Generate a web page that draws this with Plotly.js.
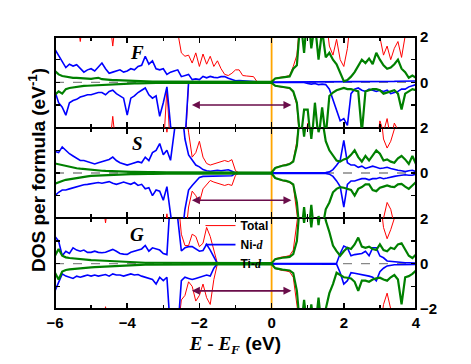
<!DOCTYPE html>
<html>
<head>
<meta charset="utf-8">
<script src="https://cdn.plot.ly/plotly-3.0.1.min.js"></script>
<style>
  html, body { margin: 0; padding: 0; background: #fff; }
  #dosGraph { width: 471px; height: 364px; }
</style>
</head>
<body>
<div id="dosGraph"></div>
<script>
// energy grid E - E_F (eV)
const energy = [
  -6.0, -5.9, -5.8, -5.7, -5.6, -5.5, -5.4, -5.3, -5.2, -5.1,
  -5.0, -4.9, -4.8, -4.7, -4.6, -4.5, -4.4, -4.3, -4.2, -4.1,
  -4.0, -3.9, -3.8, -3.7, -3.6, -3.5, -3.4, -3.3, -3.2, -3.1,
  -3.0, -2.9, -2.8, -2.7, -2.6, -2.5, -2.4, -2.3, -2.2, -2.1,
  -2.0, -1.9, -1.8, -1.7, -1.6, -1.5, -1.4, -1.3, -1.2, -1.1,
  -1.0, -0.9, -0.8, -0.7, -0.6, -0.5, -0.4, -0.3, -0.2, -0.1,
  0.0, 0.1, 0.2, 0.3, 0.4, 0.5, 0.6, 0.7, 0.8, 0.9,
  1.0, 1.1, 1.2, 1.3, 1.4, 1.5, 1.6, 1.7, 1.8, 1.9,
  2.0, 2.1, 2.2, 2.3, 2.4, 2.5, 2.6, 2.7, 2.8, 2.9,
  3.0, 3.1, 3.2, 3.3, 3.4, 3.5, 3.6, 3.7, 3.8, 3.9,
  4.0
];

// ---- F panel ----
const fTotalUp = [
  3, 3, 3, 3, 3, 3, 3, 1.8, 3, 3,
  3, 3, 3, 3, 3, 3, 1.6, 3, 3, 3,
  3, 3, 3, 3, 3, 3, 3, 3, 3, 3,
  3, 3, 3, 3.5, 2.2, 1.3, 1.15, 1.2, 0.85, 1.3,
  0.7, 1.25, 0.8, 1.15, 0.7, 0.95, 0.6, 0.35, 0.3, 0.4,
  0.55, 0.55, 0.3, 0.28, 0.28, 0.25, 0.02, 0, 0, 0,
  0.02, 0.18, 0.22, 0.24, 0.26, 0.3, 0.7, 1.2, 3, 3,
  3, 3, 3, 3, 3, 3, 1.6, 1.2, 1.9, 1.0,
  0.7, 1.5, 3, 3, 3, 3, 3, 3, 3, 3,
  2.0, 1.2, 1.6, 1.0, 1.5, 1.8, 1.1, 2.2, 3, 3,
  3
];
const fTotalDown = [
  -3, -3, -3, -3, -3, -3, -3, -3, -3, -3,
  -3, -3, -3, -3, -3, -3, -1.5, -3, -3, -3,
  -3, -3, -3, -3, -3, -3, -3, -3, -3, -3,
  -3, -0.3, -3, -3, -3, -3, -3, -0.05, -0.02, -0.02,
  -0.02, -0.02, -0.02, -0.02, -0.02, -0.02, -0.02, -0.02, -0.02, -0.02,
  -0.02, -0.02, -0.02, -0.02, -0.02, -0.02, -0.02, -0.01, -0.01, -0.01,
  -0.02, -0.16, -0.2, -0.22, -0.24, -0.28, -0.45, -1.0, -3, -3,
  -1.8, -3, -3, -3, -3, -3, -3, -3, -3, -3,
  -3, -3, -3, -3, -3, -3, -3, -3, -3, -3,
  -1.7, -2.2, -1.6, -2.5, -1.8, -2.1, -3, -3, -3, -3,
  -3
];
const fNiUp = [
  1.45, 1.2, 0.95, 0.65, 0.8, 0.72, 0.78, 0.6, 0.45, 0.55,
  0.6, 0.5, 0.7, 0.85, 0.6, 0.4, 0.45, 0.5, 0.55, 0.45,
  0.5, 0.6, 0.55, 0.7, 0.75, 1.15, 0.8, 0.95, 0.6, 0.55,
  0.6, 0.35, 0.45, 0.5, 0.55, 0.25, 0.3, 0.35, 0.12, 0.15,
  0.12, 0.26, 0.2, 0.26, 0.22, 0.2, 0.25, 0.26, 0.18, 0.12,
  0.07, 0.08, 0.06, 0.05, 0.04, 0.03, 0.02, 0.01, 0.01, 0.01,
  0.01, 0.01, 0.01, 0.01, 0.01, 0.01, 0.01, 0.01, 0.01, 0.01,
  0.02, 0.02, 0.02, 0.02, 0.02, 0.02, 0.02, 0.02, 0.02, 0.02,
  0.02, 0.02, 0.02, 0.02, 0.02, 0.02, 0.02, 0.02, 0.02, 0.02,
  0.02, 0.02, 0.03, 0.03, 0.04, 0.05, 0.05, 0.04, 0.06, 0.05,
  0.06
];
const fNiDown = [
  -0.4, -0.9, -1.1, -1.45, -0.9, -0.8, -0.75, -0.65, -0.6, -0.55,
  -0.55, -0.5, -0.45, -0.45, -0.55, -0.4, -0.35, -0.5, -0.6, -0.7,
  -1.45, -0.7, -0.6, -0.45, -0.35, -0.25, -0.55, -0.7, -0.6, -1.5,
  -0.9, -0.2, -1.9, -2.8, -2.5, -3, -2.6, -0.02, -0.01, -0.01,
  -0.01, -0.01, -0.01, -0.01, -0.01, -0.01, -0.01, -0.01, -0.01, -0.01,
  -0.01, -0.01, -0.01, -0.01, -0.01, -0.01, -0.01, -0.01, -0.01, -0.01,
  -0.01, -0.01, -0.01, -0.01, -0.01, -0.01, -0.01, -0.01, -0.01, -0.01,
  -0.05, -0.08, -0.05, -0.1, -0.08, -0.1, -0.3, -0.8, -1.2, -1.7,
  -1.6, -1.9, -0.5, -0.3, -0.25, -0.35, -0.4, -0.3, -0.35, -0.4,
  -0.35, -0.4, -0.35, -0.5, -0.45, -0.4, -0.3, -0.3, -0.2, -0.15,
  -0.1
];
const fTiUp = [
  0.5, 0.35, 0.28, 0.25, 0.22, 0.2, 0.2, 0.18, 0.17, 0.16,
  0.15, 0.18, 0.2, 0.14, 0.12, 0.12, 0.1, 0.1, 0.09, 0.1,
  0.08, 0.07, 0.06, 0.05, 0.05, 0.04, 0.04, 0.03, 0.03, 0.03,
  0.03, 0.03, 0.03, 0.03, 0.03, 0.03, 0.03, 0.03, 0.03, 0.03,
  0.02, 0.02, 0.02, 0.02, 0.02, 0.02, 0.02, 0.02, 0.02, 0.02,
  0.02, 0.02, 0.02, 0.02, 0.02, 0.02, 0.02, 0.02, 0.02, 0.02,
  0.02, 0.17, 0.2, 0.22, 0.24, 0.26, 0.6, 0.75, 2.8, 1.3,
  3.2, 1.5, 2.6, 1.0, 2.3, 1.1, 1.3, 1.0, 0.8, 0.4,
  0.05, 0.1, 0.25, 0.45, 0.7, 1.0, 0.85, 1.05, 0.8, 1.3,
  1.0, 0.75, 0.6, 0.65, 0.8, 1.0, 0.6, 0.45, 0.2, 0.3,
  0.2
];
const fTiDown = [
  -0.55, -0.4, -0.5, -0.3, -0.25, -0.22, -0.2, -0.18, -0.16, -0.15,
  -0.14, -0.13, -0.12, -0.11, -0.1, -0.09, -0.08, -0.08, -0.07, -0.06,
  -0.06, -0.05, -0.05, -0.05, -0.04, -0.04, -0.04, -0.03, -0.03, -0.03,
  -0.03, -0.03, -0.03, -0.03, -0.03, -0.03, -0.03, -0.03, -0.03, -0.03,
  -0.02, -0.02, -0.02, -0.02, -0.02, -0.02, -0.02, -0.02, -0.02, -0.02,
  -0.02, -0.02, -0.02, -0.02, -0.02, -0.02, -0.02, -0.02, -0.02, -0.02,
  -0.02, -0.15, -0.18, -0.2, -0.22, -0.25, -0.4, -0.9, -2.6, -1.2,
  -1.2, -2.8, -0.9, -2.5, -1.1, -2.4, -0.6, -0.45, -0.35, -0.3,
  -0.25, -0.3, -0.3, -0.35, -0.4, -2.2, -0.4, -0.35, -0.3, -0.3,
  -0.35, -0.5, -0.45, -0.4, -0.35, -0.5, -1.2, -0.5, -0.4, -0.3,
  -0.35
];

// ---- S panel ----
const sTotalUp = [
  3, 3, 3, 3, 3, 3, 3, 3, 3, 3,
  3, 3, 3, 3, 3, 3, 2.0, 3, 3, 3,
  3, 3, 3, 3, 3, 3, 3, 3, 3, 3,
  3, 1.8, 3, 3, 3, 3, 3, 1.8, 0.7, 0.9,
  1.4, 0.7, 0.42, 0.35, 0.4, 0.45, 0.48, 0.55, 0.5, 0.59,
  0.1, 0, 0, 0, 0, 0, 0, 0, 0, 0,
  0.02, 0.24, 0.3, 0.34, 0.37, 0.42, 0.55, 1.4, 3, 3,
  3, 3, 3, 3, 3, 3, 3, 3, 3, 3,
  3, 3, 3, 3, 3, 3, 3, 3, 3, 3,
  3, 1.5, 1.1, 1.4, 1.9, 2.5, 3, 3, 3, 3,
  3
];
const sTotalDown = [
  -3, -3, -3, -3, -3, -3, -3, -3, -3, -3,
  -3, -3, -3, -3, -3, -3, -2.0, -3, -3, -3,
  -3, -3, -3, -3, -3, -3, -3, -3, -3, -3,
  -3, -1.8, -3, -3, -3, -3, -3, -1.5, -0.8, -1.0,
  -1.3, -0.7, -0.5, -0.33, -0.4, -0.45, -0.48, -0.55, -0.5, -0.55,
  -0.1, 0, 0, 0, 0, 0, 0, 0, 0, 0,
  -0.02, -0.24, -0.3, -0.34, -0.37, -0.42, -0.55, -1.5, -3, -3,
  -3, -3, -3, -3, -3, -3, -3, -3, -3, -3,
  -3, -3, -3, -3, -3, -3, -3, -3, -3, -3,
  -3, -2.0, -1.3, -1.6, -2.2, -3, -3, -3, -3, -3,
  -3
];
const sNiUp = [
  0.95, 0.9, 1.15, 1.0, 0.85, 0.75, 0.65, 0.55, 0.55, 0.5,
  0.45, 0.4, 0.45, 0.5, 0.55, 0.6, 0.7, 0.55, 0.45, 0.4,
  0.35, 0.4, 0.45, 0.5, 0.45, 0.7, 0.55, 0.9, 1.0, 1.3,
  0.8, 1.0, 0.56, 1.9, 3, 3, 1.5, 0.8, 0.55, 0.35,
  0.27, 0.15, 0.1, 0.08, 0.1, 0.12, 0.1, 0.12, 0.14, 0.08,
  0.0, 0.01, 0.01, 0.01, 0.01, 0.01, 0.01, 0.01, 0.01, 0.01,
  0.01, 0.01, 0.01, 0.01, 0.01, 0.01, 0.01, 0.01, 0.01, 0.01,
  0.01, 0.01, 0.01, 0.01, 0.01, 0.02, 0.05, 0.15, 0.34, 0.56,
  1.44, 0.45, 0.35, 0.35, 0.25, 0.3, 0.2, 0.25, 0.3, 0.25,
  0.2, 0.22, 0.25, 0.2, 0.15, 0.12, 0.1, 0.06, 0.1, 0.12,
  0.06
];
const sNiDown = [
  -1.0, -0.85, -0.75, -0.75, -0.7, -0.65, -0.6, -0.55, -0.52, -0.5,
  -0.48, -0.45, -0.42, -0.45, -0.42, -0.38, -0.45, -0.5, -0.45, -0.4,
  -0.45, -0.5, -0.42, -0.55, -0.5, -0.7, -0.65, -1.0, -0.75, -0.8,
  -1.2, -0.6, -1.8, -3, -3, -3, -1.6, -0.75, -0.55, -0.35,
  -0.2, -0.15, -0.15, -0.14, -0.14, -0.15, -0.15, -0.14, -0.15, -0.12,
  -0.01, -0.01, -0.01, -0.01, -0.01, -0.01, -0.01, -0.01, -0.01, -0.01,
  -0.01, -0.01, -0.01, -0.01, -0.01, -0.01, -0.01, -0.01, -0.01, -0.01,
  -0.01, -0.01, -0.01, -0.01, -0.01, -0.02, -0.05, -0.15, -0.35, -0.6,
  -1.5, -0.5, -0.35, -0.35, -0.3, -0.25, -0.25, -0.3, -0.25, -0.25,
  -0.2, -0.25, -0.22, -0.2, -0.15, -0.12, -0.1, -0.08, -0.1, -0.1,
  -0.05
];
const sTiUp = [
  0.42, 0.38, 0.34, 0.3, 0.27, 0.24, 0.21, 0.19, 0.17, 0.15,
  0.13, 0.12, 0.11, 0.1, 0.09, 0.08, 0.08, 0.07, 0.06, 0.06,
  0.05, 0.05, 0.05, 0.04, 0.04, 0.04, 0.04, 0.04, 0.03, 0.03,
  0.03, 0.03, 0.03, 0.03, 0.03, 0.03, 0.03, 0.03, 0.03, 0.03,
  0.02, 0.02, 0.02, 0.02, 0.02, 0.02, 0.02, 0.02, 0.02, 0.02,
  0.02, 0.02, 0.02, 0.02, 0.02, 0.02, 0.02, 0.02, 0.02, 0.02,
  0.02, 0.22, 0.28, 0.32, 0.35, 0.4, 0.5, 1.2, 3, 1.6,
  3, 1.5, 3, 1.8, 2.4, 1.4, 1.0, 0.75, 0.55, 0.5,
  0.6, 0.65, 0.8, 1.0, 0.7, 0.5, 0.75, 0.55, 0.75, 1.0,
  0.85, 0.55, 0.6, 0.5, 0.45, 0.65, 0.75, 0.6, 0.4, 0.75,
  0.4
];
const sTiDown = [
  -0.47, -0.4, -0.35, -0.3, -0.27, -0.24, -0.21, -0.19, -0.17, -0.15,
  -0.13, -0.12, -0.11, -0.1, -0.09, -0.08, -0.08, -0.07, -0.06, -0.06,
  -0.05, -0.05, -0.05, -0.04, -0.04, -0.04, -0.04, -0.04, -0.03, -0.03,
  -0.03, -0.03, -0.03, -0.03, -0.03, -0.03, -0.03, -0.03, -0.03, -0.03,
  -0.02, -0.02, -0.02, -0.02, -0.02, -0.02, -0.02, -0.02, -0.02, -0.02,
  -0.02, -0.02, -0.02, -0.02, -0.02, -0.02, -0.02, -0.02, -0.02, -0.02,
  -0.02, -0.22, -0.28, -0.32, -0.35, -0.4, -0.5, -1.3, -3, -1.5,
  -3, -1.4, -3, -1.9, -2.5, -1.6, -1.3, -0.85, -0.7, -0.62,
  -0.65, -0.7, -0.75, -1.0, -0.7, -0.62, -0.5, -0.5, -0.75, -0.8,
  -0.65, -0.6, -0.55, -0.6, -0.62, -0.5, -0.48, -0.6, -0.7, -0.55,
  -0.4
];

// ---- G panel ----
const gTotalUp = [
  3, 3, 3, 3, 3, 3, 3, 3, 3, 3,
  3, 3, 3, 3, 1.8, 3, 3, 3, 3, 3,
  3, 3, 3, 3, 3, 3, 3, 3, 3, 3,
  3, 3, 3, 3, 3, 1.3, 0.8, 0.8, 1.3, 1.2,
  0.75, 0.9, 1.6, 1.2, 0.6, 0, 0, 0, 0, 0,
  0, 0, 0, 0, 0, 0, 0, 0, 0, 0,
  0.02, 0.22, 0.27, 0.3, 0.32, 0.36, 0.6, 1.5, 3, 3,
  3, 3, 3, 3, 3, 3, 3, 3, 3, 3,
  3, 3, 3, 3, 3, 3, 3, 3, 3, 3,
  3, 1.6, 1.1, 1.5, 2.0, 3, 3, 3, 3, 3,
  3
];
const gTotalDown = [
  -3, -3, -3, -3, -3, -3, -3, -3, -3, -3,
  -3, -3, -3, -3, -1.9, -3, -3, -3, -3, -3,
  -3, -3, -3, -3, -3, -3, -3, -3, -3, -3,
  -3, -3, -3, -3, -3, -1.6, -1.4, -0.8, -1.0, -1.65,
  -1.4, -0.9, -1.5, -1.8, -0.7, 0, 0, 0, 0, 0,
  0, 0, 0, 0, 0, 0, 0, 0, 0, 0,
  -0.02, -0.22, -0.27, -0.3, -0.32, -0.36, -0.6, -1.5, -3, -3,
  -3, -3, -3, -3, -3, -3, -3, -3, -3, -3,
  -3, -3, -3, -3, -3, -3, -3, -3, -3, -3,
  -3, -1.8, -1.3, -2.0, -2.5, -3, -3, -3, -3, -3,
  -3
];
const gNiUp = [
  1.2, 1.0, 0.35, 0.55, 0.45, 0.7, 0.6, 0.55, 0.6, 0.5,
  0.5, 0.55, 0.5, 0.48, 0.5, 0.55, 0.63, 0.55, 0.45, 0.42,
  0.41, 0.5, 0.55, 0.6, 0.65, 0.8, 0.55, 0.7, 0.65, 0.6,
  0.45, 0.4, 3, 3, 2.0, 0.56, 0.7, 0.75, 0.75, 0.65,
  0.55, 0.58, 0.85, 0.6, 0.3, 0, 0.01, 0.01, 0.01, 0.01,
  0.01, 0.01, 0.01, 0.01, 0.01, 0.01, 0.01, 0.01, 0.01, 0.01,
  0.02, 0.02, 0.02, 0.02, 0.02, 0.02, 0.02, 0.02, 0.02, 0.02,
  0.02, 0.02, 0.02, 0.02, 0.02, 0.02, 0.02, 0.02, 0.02, 0.45,
  0.78, 0.7, 0.35, 0.4, 0.42, 0.45, 0.55, 0.35, 0.7, 0.7,
  0.34, 0.26, 0.12, 0.1, 0.08, 0.06, 0.05, 0.04, 0.04, 0.03,
  0.03
];
const gNiDown = [
  -1.2, -0.8, -0.45, -0.55, -0.6, -0.65, -0.55, -0.6, -0.55, -0.5,
  -0.55, -0.5, -0.55, -0.5, -0.48, -0.55, -0.45, -0.5, -0.5, -0.55,
  -0.5, -0.45, -0.5, -0.48, -0.55, -0.6, -0.65, -0.7, -0.9, -0.6,
  -0.75, -0.6, -3, -3, -3, -0.75, -0.6, -0.65, -0.7, -0.65,
  -0.6, -0.55, -0.5, -0.55, -0.2, 0, -0.01, -0.01, -0.01, -0.01,
  -0.01, -0.01, -0.01, -0.01, -0.01, -0.01, -0.01, -0.01, -0.01, -0.01,
  -0.02, -0.02, -0.02, -0.02, -0.02, -0.02, -0.02, -0.02, -0.02, -0.02,
  -0.02, -0.02, -0.02, -0.02, -0.02, -0.02, -0.02, -0.02, -0.02, -0.4,
  -0.9, -0.75, -0.4, -0.42, -0.45, -0.47, -0.5, -0.55, -0.6, -0.76,
  -0.35, -0.2, -0.1, -0.07, -0.05, -0.05, -0.04, -0.04, -0.03, -0.03,
  -0.03
];
const gTiUp = [
  0.35, 0.65, 0.35, 0.28, 0.25, 0.23, 0.22, 0.2, 0.19, 0.17,
  0.16, 0.15, 0.14, 0.13, 0.12, 0.12, 0.11, 0.1, 0.09, 0.08,
  0.08, 0.07, 0.06, 0.05, 0.05, 0.04, 0.04, 0.04, 0.04, 0.03,
  0.03, 0.03, 0.03, 0.03, 0.03, 0.03, 0.03, 0.03, 0.03, 0.03,
  0.03, 0.03, 0.03, 0.03, 0.03, 0.03, 0.03, 0.03, 0.03, 0.03,
  0.02, 0.02, 0.02, 0.02, 0.02, 0.02, 0.02, 0.02, 0.02, 0.02,
  0.02, 0.2, 0.24, 0.26, 0.28, 0.3, 0.42, 1.0, 3, 1.8,
  3, 1.6, 3, 1.7, 3, 1.9, 1.4, 0.8, 0.55, 0.35,
  0.55, 0.7, 0.65, 0.85, 1.15, 0.75, 0.7, 0.75, 0.65, 0.6,
  0.85, 0.6, 0.55, 0.7, 0.65, 0.85, 0.9, 0.6, 0.35, 0.25,
  0.4
];
const gTiDown = [
  -0.4, -0.7, -0.35, -0.28, -0.25, -0.23, -0.22, -0.2, -0.19, -0.17,
  -0.16, -0.15, -0.14, -0.13, -0.12, -0.12, -0.11, -0.1, -0.09, -0.08,
  -0.08, -0.07, -0.06, -0.05, -0.05, -0.04, -0.04, -0.04, -0.04, -0.03,
  -0.03, -0.03, -0.03, -0.03, -0.03, -0.03, -0.03, -0.03, -0.03, -0.03,
  -0.03, -0.03, -0.03, -0.03, -0.03, -0.03, -0.03, -0.03, -0.03, -0.03,
  -0.02, -0.02, -0.02, -0.02, -0.02, -0.02, -0.02, -0.02, -0.02, -0.02,
  -0.02, -0.2, -0.24, -0.26, -0.28, -0.3, -0.42, -1.2, -3, -1.6,
  -3, -1.8, -3, -1.5, -3, -2.0, -1.3, -0.9, -0.4, -0.5,
  -0.6, -0.62, -0.65, -0.8, -1.2, -0.75, -0.75, -0.8, -0.7, -0.65,
  -0.62, -0.7, -0.75, -0.6, -0.5, -0.7, -1.8, -0.6, -0.55, -0.45,
  -0.3
];

const panelLabels = ['F', 'S', 'G'];
const seriesNames = ['Total', 'Ni-<span style="font-family:Liberation Serif"><i>d</i></span>',
                     'Ti-<span style="font-family:Liberation Serif"><i>d</i></span>'];
const seriesColors = ['#ff0000', '#0000ff', '#008000'];
const seriesWidths = [1, 1.6, 2.2];

// arrow (gap marker) in each panel: from E=-2.25 to E=0.55 at height y
const arrowFrom = -2.25;
const arrowTo = 0.55;
const arrowY = [-1.0, -1.2, -1.2];

const panels = [
  { suffix: '3', curves: [[fTotalUp, fTotalDown], [fNiUp, fNiDown], [fTiUp, fTiDown]] },
  { suffix: '2', curves: [[sTotalUp, sTotalDown], [sNiUp, sNiDown], [sTiUp, sTiDown]] },
  { suffix: '',  curves: [[gTotalUp, gTotalDown], [gNiUp, gNiDown], [gTiUp, gTiDown]] }
];

const AXIS_FONT = 'Liberation Sans, Arial, sans-serif';
const SERIF_FONT = 'Liberation Serif, Times New Roman, serif';

const data = [];
panels.forEach((p, pi) => {
  p.curves.forEach((pair, si) => {
    pair.forEach((ys, k) => {
      data.push({
        x: energy,
        y: ys,
        type: 'scatter',
        mode: 'lines',
        xaxis: 'x' + p.suffix,
        yaxis: 'y' + p.suffix,
        name: seriesNames[si],
        legendgroup: 'g' + si,
        showlegend: pi === 0 && k === 0,
        line: { color: seriesColors[si], width: seriesWidths[si] },
        hoverinfo: 'skip'
      });
    });
  });
});

function xAxis(anchor, showLabels) {
  return {
    anchor: anchor,
    range: [-6, 4],
    tickmode: 'array',
    tickvals: [-6, -4, -2, 0, 2, 4],
    ticks: 'inside',
    ticklen: 6,
    tickwidth: 1.5,
    tickcolor: '#000',
    minor: { tickmode: 'array', tickvals: [-5, -3, -1, 1, 3], ticks: 'inside', ticklen: 4, tickwidth: 1.5, tickcolor: '#000' },
    showticklabels: showLabels,
    tickfont: { family: AXIS_FONT, size: 15, color: '#000', weight: 'bold' },
    showline: true,
    linecolor: '#000',
    linewidth: 1,
    mirror: 'ticks',
    showgrid: false,
    zeroline: false,
    fixedrange: true
  };
}

function yAxis(anchor, domain, vals) {
  return {
    anchor: anchor,
    domain: domain,
    side: 'right',
    range: [-2, 2],
    tickmode: 'array',
    tickvals: vals,
    ticks: 'inside',
    ticklen: 5,
    tickwidth: 1.5,
    tickcolor: '#000',
    minor: { tickmode: 'array', tickvals: [-1, 1], ticks: 'inside', ticklen: 5, tickwidth: 1.5, tickcolor: '#000' },
    tickfont: { family: AXIS_FONT, size: 15, color: '#000', weight: 'bold' },
    showline: true,
    linecolor: '#000',
    linewidth: 1,
    mirror: 'ticks',
    showgrid: false,
    zeroline: false,
    fixedrange: true
  };
}

const shapes = [
  // Fermi level
  { type: 'line', xref: 'x', yref: 'paper', x0: 0, x1: 0, y0: 0, y1: 1, layer: 'below',
    line: { color: '#ffa500', width: 1.8 } },
  // outer frame
  { type: 'rect', xref: 'paper', yref: 'paper', x0: 0, x1: 1, y0: 0, y1: 1, layer: 'above',
    line: { color: '#000', width: 2 } }
];
const annotations = [];
panels.forEach((p, pi) => {
  shapes.push({ type: 'line', xref: 'paper', yref: 'y' + p.suffix, x0: 0, x1: 1, y0: 0, y1: 0,
    layer: 'below', line: { color: '#888', width: 1.3, dash: 'dash' } });
  annotations.push({
    xref: 'x' + p.suffix, yref: 'y' + p.suffix, axref: 'x' + p.suffix, ayref: 'y' + p.suffix,
    x: arrowTo, y: arrowY[pi], ax: arrowFrom, ay: arrowY[pi], text: '',
    showarrow: true, arrowhead: 2, arrowside: 'end+start', arrowsize: 1, arrowwidth: 1.6,
    arrowcolor: '#6a0d4a'
  });
  annotations.push({
    xref: 'x' + p.suffix, yref: 'y' + p.suffix, x: -3.72, y: 1.3,
    text: '<i>' + panelLabels[pi] + '</i>', showarrow: false,
    font: { family: SERIF_FONT, size: 19, color: '#000', weight: 'bold' }
  });
});
annotations.push({
  xref: 'paper', yref: 'paper', x: -0.048, y: 0.51, xanchor: 'center', yanchor: 'middle',
  textangle: -90, text: 'DOS per formula (eV<sup>-1</sup>)', showarrow: false,
  font: { family: AXIS_FONT, size: 19, color: '#000', weight: 'bold' }
});

const layout = {
  width: 471,
  height: 364,
  margin: { l: 55, r: 55, t: 37, b: 55 },
  paper_bgcolor: '#fff',
  plot_bgcolor: '#fff',
  showlegend: true,
  legend: {
    x: 0.403, y: 0.36, xanchor: 'left', yanchor: 'top',
    bgcolor: 'rgba(0,0,0,0)', borderwidth: 0,
    font: { family: AXIS_FONT, size: 12, color: '#000', weight: 'bold' },
    tracegroupgap: 0
  },
  xaxis: Object.assign(xAxis('y', true), {
    title: {
      text: '<span style="font-family:Liberation Serif"><i>E</i> - <i>E</i><sub><i>F</i></sub></span> (eV)',
      font: { family: AXIS_FONT, size: 19, color: '#000', weight: 'bold' },
      standoff: 6
    }
  }),
  xaxis2: Object.assign(xAxis('y2', false), { matches: 'x' }),
  xaxis3: Object.assign(xAxis('y3', false), { matches: 'x' }),
  yaxis: yAxis('x', [0, 0.3333], [-2, 0, 2]),
  yaxis2: yAxis('x2', [0.3333, 0.6667], [0, 2]),
  yaxis3: yAxis('x3', [0.6667, 1], [0, 2]),
  shapes: shapes,
  annotations: annotations
};

Plotly.newPlot('dosGraph', data, layout, { staticPlot: true, displayModeBar: false });
</script>
</body>
</html>
